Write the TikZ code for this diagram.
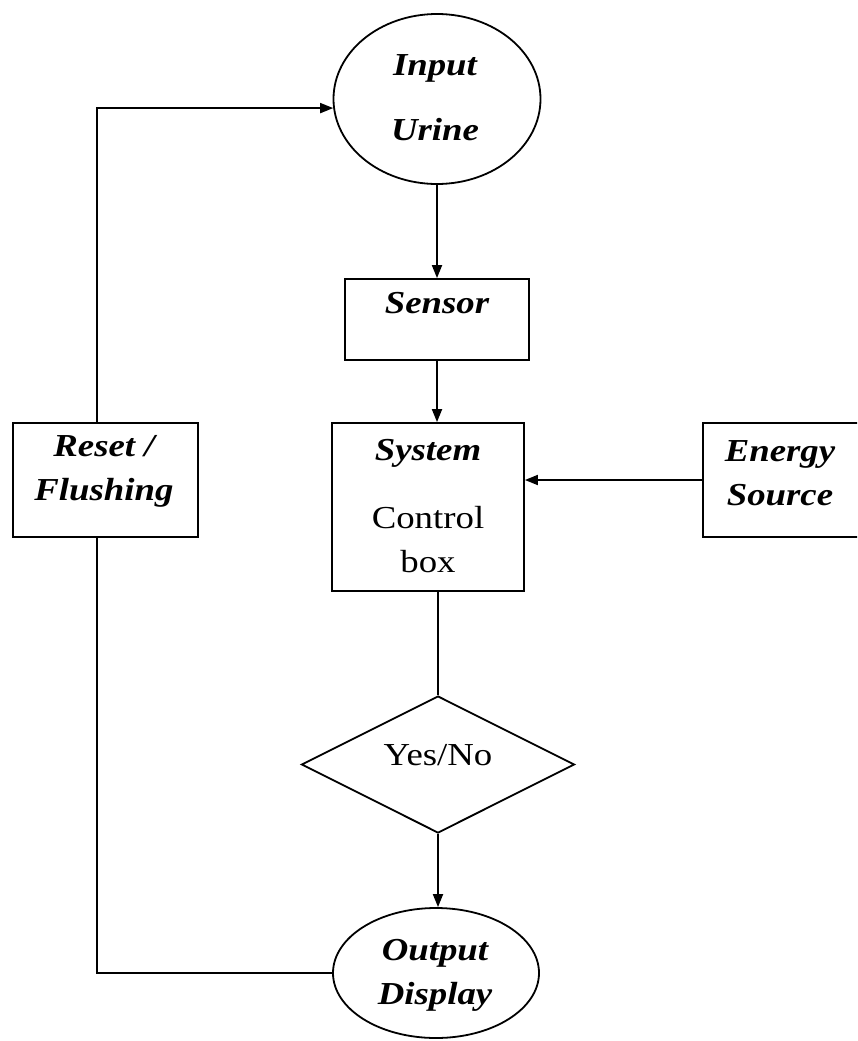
\documentclass[tikz,border=0pt]{standalone}
\usepackage{fontspec}
\setmainfont{Liberation Serif}[FakeStretch=1.15]
\usetikzlibrary{shapes.geometric,arrows.meta}

\tikzset{
  every picture/.style={x=1pt,y=-1pt},
  line/.style={line width=1.8pt,draw=black},
  arr/.style={line,-{Triangle[length=13pt,width=10pt]}},
  boxnode/.style={line,rectangle,inner sep=0pt},
  ovalnode/.style={line,ellipse,inner sep=0pt},
  decisionnode/.style={line,diamond,inner sep=0pt},
  label/.style={inner sep=0pt,align=center,font=\fontsize{32}{44}\selectfont},
  bi/.style={label,font=\fontsize{32}{44}\selectfont\bfseries\itshape}
}

\begin{document}
\begin{tikzpicture}
\useasboundingbox (0,0) rectangle (857,1041);
\clip (0,0) rectangle (857,1041);

% shapes
\node[ovalnode,minimum width=207pt,minimum height=170pt] (input) at (437,99) {};
\node[boxnode,minimum width=184pt,minimum height=81pt] (sensor) at (437,319.5) {};
\node[boxnode,minimum width=192pt,minimum height=168pt] (system) at (428,507) {};
\node[boxnode,minimum width=156pt,minimum height=114pt] (energy) at (781,480) {};
\node[boxnode,minimum width=185pt,minimum height=114pt] (reset) at (105.5,480) {};
\node[decisionnode,minimum width=273pt,minimum height=137pt] (decision) at (438,764.5) {};
\node[ovalnode,minimum width=206pt,minimum height=130pt] (output) at (436,973) {};

% texts
\node[bi] (inputText) at (435,97.5) {Input\\[21pt]Urine};
\node[bi] (sensorText) at (437,303) {Sensor};
\node[label] (systemText) at (428,506) {{\bfseries\itshape System}\\[24pt]Control\\box};
\node[bi] (energyText) at (780,473) {Energy\\Source};
\node[bi] (resetText) at (104,471.5) {Reset /\\Flushing};
\node[label] (decisionText) at (438,755) {Yes/No};
\node[bi] (outputText) at (435,975) {Output\\Display};

% connectors
\draw[arr] (input.south) -- (input.south |- sensor.north);
\draw[arr] (sensor.south) -- (sensor.south |- system.north);
\draw[arr] (energy.west) -- (energy.west -| system.east);
\draw[line] (decision.north |- system.south) -- (decision.north);
\draw[arr] (decision.south) -- (decision.south |- output.north);
\draw[line] (output.west) -| ([xshift=-8.5pt]reset.south);
\draw[arr] ([xshift=-8.5pt]reset.north) |- (input.185);
\end{tikzpicture}
\end{document}
